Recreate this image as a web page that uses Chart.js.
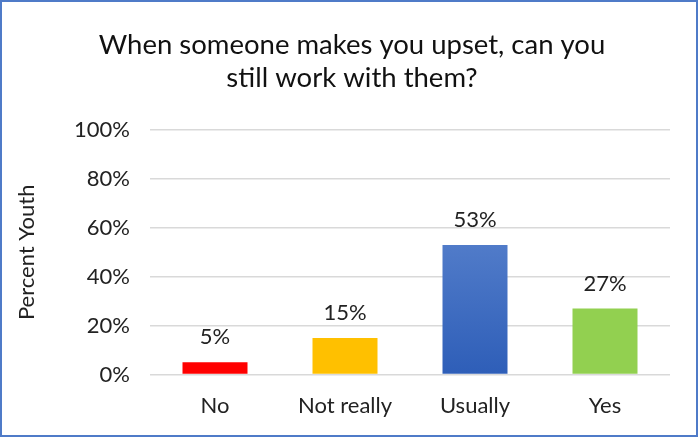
<!DOCTYPE html>
<html>
<head>
<meta charset="utf-8">
<script src="https://cdn.jsdelivr.net/npm/chart.js@4/dist/chart.umd.min.js"></script>
<style>
  body { margin: 0; background: #fff; }
  #box { width: 694px; height: 433px; border: 2px solid #4F7BC8; position: relative; }
  canvas { display: block; }
</style>
</head>
<body>
<div id="box"><canvas id="c" width="694" height="433"></canvas></div>
<script>
// data
const categories = ['No', 'Not really', 'Usually', 'Yes'];
const percentYouth = [5, 15, 53, 27];
const yTicks = [0, 20, 40, 60, 80, 100];

const FONT = 'Lato, "Open Sans", sans-serif';

// labels above bars
const valueLabels = {
  id: 'valueLabels',
  afterDatasetsDraw(chart) {
    const ctx = chart.ctx;
    const meta = chart.getDatasetMeta(0);
    ctx.save();
    ctx.font = '22px ' + FONT;
    ctx.fillStyle = '#222';
    ctx.textAlign = 'center';
    ctx.textBaseline = 'bottom';
    meta.data.forEach((bar, i) => {
      ctx.fillText(percentYouth[i] + '%', bar.x, bar.y - 14);
    });
    ctx.restore();
  }
};

function barColor(c) {
  const i = c.dataIndex;
  if (i === 2) {
    const area = c.chart.chartArea;
    if (!area) return '#4472C4';
    const g = c.chart.ctx.createLinearGradient(0, area.top, 0, area.bottom);
    g.addColorStop(0, '#6F95D8');
    g.addColorStop(1, '#2E5EB8');
    return g;
  }
  return ['#FF0000', '#FFC000', '#4472C4', '#92D050'][i];
}

new Chart(document.getElementById('c'), {
  type: 'bar',
  data: {
    labels: categories,
    datasets: [{
      data: percentYouth,
      backgroundColor: barColor,
      barPercentage: 0.5,
      categoryPercentage: 1.0
    }]
  },
  plugins: [valueLabels],
  options: {
    responsive: false,
    animation: false,
    layout: { padding: { left: 32, right: 26, top: 10, bottom: 6 } },
    plugins: {
      legend: { display: false },
      tooltip: { enabled: false },
      title: {
        display: true,
        text: ['When someone makes you upset, can you', 'still work with them?'],
        color: '#111',
        font: { family: FONT, size: 27.5, weight: 'normal', lineHeight: 1.2 },
        padding: { top: 17, bottom: 35 }
      }
    },
    scales: {
      x: {
        grid: { display: false },
        border: { display: false },
        ticks: { color: '#222', font: { family: FONT, size: 22 }, padding: 10 }
      },
      y: {
        min: 0, max: 100,
        afterFit: s => { s.width = 116; },
        afterBuildTicks: s => { s.ticks = yTicks.map(v => ({ value: v })); },
        grid: { color: '#D9D9D9', lineWidth: 1.5, drawTicks: false },
        border: { display: false },
        ticks: {
          color: '#222',
          font: { family: FONT, size: 22 },
          padding: 20,
          callback: v => v + '%'
        },
        title: {
          display: true,
          text: 'Percent Youth',
          color: '#222',
          font: { family: FONT, size: 22 },
          padding: { top: -20, bottom: 0 }
        }
      }
    }
  }
});
</script>
</body>
</html>
